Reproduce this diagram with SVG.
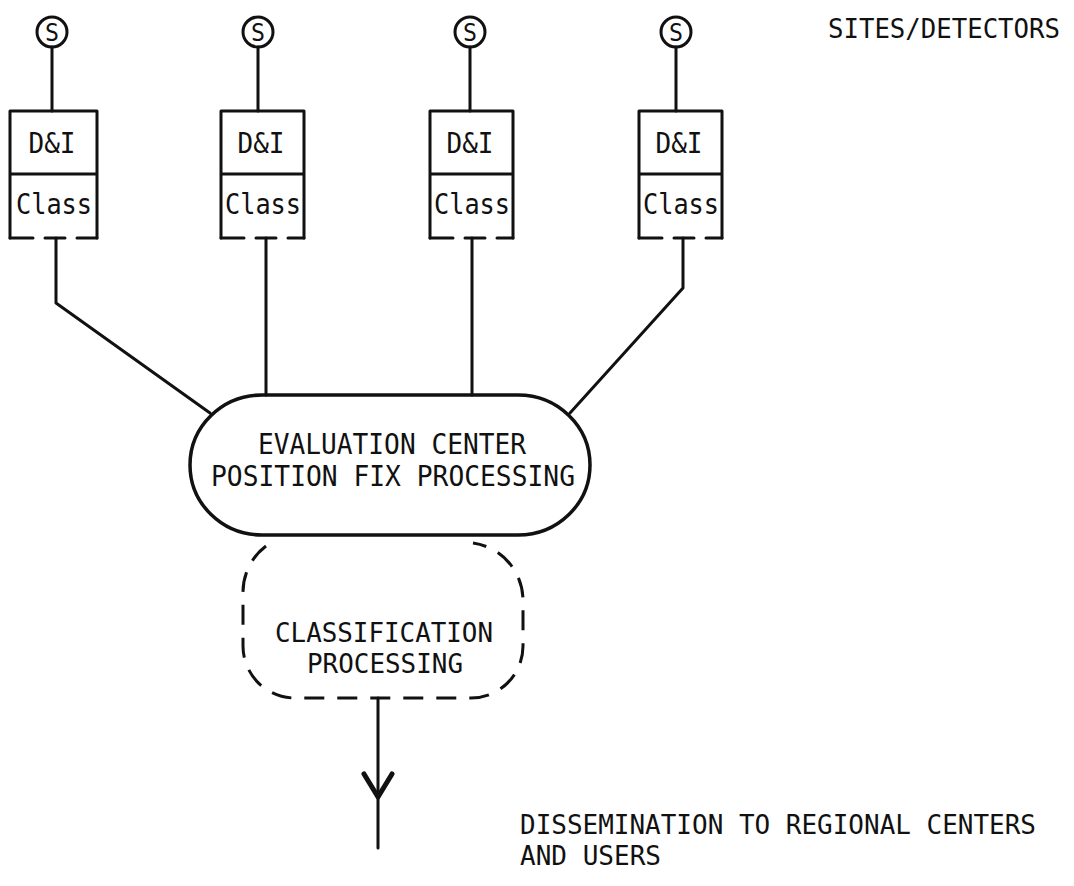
<svg xmlns="http://www.w3.org/2000/svg" width="1074" height="886" viewBox="0 0 1074 886">
<style>
.ln{fill:none;stroke:#111;stroke-width:3;stroke-linecap:round;stroke-linejoin:round}
.dash{fill:none;stroke:#111;stroke-width:3;stroke-dasharray:20 13}
.t{font-family:"DejaVu Sans Mono","Liberation Mono",monospace;font-size:29px;fill:#111}
.s{font-size:26px}
.c{text-anchor:middle}
</style>
<rect width="1074" height="886" fill="#fff"/>
<g id="connectors">
<line class="ln" x1="52" y1="47" x2="52" y2="111"/>
<line class="ln" x1="258" y1="47" x2="258" y2="111"/>
<line class="ln" x1="470" y1="47" x2="470" y2="111"/>
<line class="ln" x1="676" y1="47" x2="676" y2="111"/>
<polyline class="ln" points="56,238 56,303 210,413"/>
<line class="ln" x1="266" y1="238" x2="266" y2="395"/>
<line class="ln" x1="472" y1="238" x2="472" y2="395"/>
<polyline class="ln" points="683,238 683,288 570,413"/>
<line class="ln" x1="378" y1="698" x2="378" y2="848"/>
<polyline class="ln" points="364,774 378,797 392,774" style="stroke-width:5"/>
</g>
<g id="s1"><circle class="ln" cx="52" cy="32" r="15"/><text class="t c" x="52" y="41" style="font-size:25px" textLength="14" lengthAdjust="spacingAndGlyphs">S</text></g>
<g id="s2"><circle class="ln" cx="258" cy="32" r="15"/><text class="t c" x="258" y="41" style="font-size:25px" textLength="14" lengthAdjust="spacingAndGlyphs">S</text></g>
<g id="s3"><circle class="ln" cx="470" cy="32" r="15"/><text class="t c" x="470" y="41" style="font-size:25px" textLength="14" lengthAdjust="spacingAndGlyphs">S</text></g>
<g id="s4"><circle class="ln" cx="676" cy="32" r="15"/><text class="t c" x="676" y="41" style="font-size:25px" textLength="14" lengthAdjust="spacingAndGlyphs">S</text></g>
<g id="box1">
<path class="ln" d="M10,238 V111 H97 V238 M10,174 H97"/>
<path class="ln" d="M10,238 H33 M45,238 H65 M77,238 H97"/>
<text class="t c" x="52" y="153" textLength="47" lengthAdjust="spacingAndGlyphs">D&amp;I</text><text class="t c" x="54" y="214" textLength="76" lengthAdjust="spacingAndGlyphs">Class</text>
</g>
<g id="box2">
<path class="ln" d="M221,238 V111 H304 V238 M221,174 H304"/>
<path class="ln" d="M221,238 H244 M256,238 H276 M288,238 H304"/>
<text class="t c" x="261" y="153" textLength="47" lengthAdjust="spacingAndGlyphs">D&amp;I</text><text class="t c" x="263" y="214" textLength="76" lengthAdjust="spacingAndGlyphs">Class</text>
</g>
<g id="box3">
<path class="ln" d="M430,238 V111 H513 V238 M430,174 H513"/>
<path class="ln" d="M430,238 H453 M465,238 H485 M497,238 H513"/>
<text class="t c" x="470" y="153" textLength="47" lengthAdjust="spacingAndGlyphs">D&amp;I</text><text class="t c" x="472" y="214" textLength="76" lengthAdjust="spacingAndGlyphs">Class</text>
</g>
<g id="box4">
<path class="ln" d="M639,238 V111 H722 V238 M639,174 H722"/>
<path class="ln" d="M639,238 H662 M674,238 H694 M706,238 H722"/>
<text class="t c" x="679" y="153" textLength="47" lengthAdjust="spacingAndGlyphs">D&amp;I</text><text class="t c" x="681" y="214" textLength="76" lengthAdjust="spacingAndGlyphs">Class</text>
</g>
<g id="evaluation">
<rect class="ln" x="190" y="395" width="400" height="140" rx="72" ry="70" style="stroke-width:3.5"/>
<text class="t c" x="392" y="454" textLength="268" lengthAdjust="spacingAndGlyphs">EVALUATION CENTER</text>
<text class="t c" x="393" y="486" textLength="364" lengthAdjust="spacingAndGlyphs">POSITION FIX PROCESSING</text>
</g>
<g id="classification">
<path class="dash" d="M266,546 A58,58 0 0 0 243,594 L243,646 A52,52 0 0 0 295,698 L471,698 A52,52 0 0 0 523,646 L523,600 A58,58 0 0 0 473,543"/>
<text class="t s c" x="384" y="642" textLength="218" lengthAdjust="spacingAndGlyphs">CLASSIFICATION</text>
<text class="t s c" x="385" y="673" textLength="156" lengthAdjust="spacingAndGlyphs">PROCESSING</text>
</g>
<g id="labels">
<text class="t s" x="828" y="38" textLength="232" lengthAdjust="spacingAndGlyphs">SITES/DETECTORS</text>
<text class="t s" x="520" y="834" textLength="516" lengthAdjust="spacingAndGlyphs">DISSEMINATION TO REGIONAL CENTERS</text>
<text class="t s" x="520" y="865" textLength="141" lengthAdjust="spacingAndGlyphs">AND USERS</text>
</g>
</svg>
